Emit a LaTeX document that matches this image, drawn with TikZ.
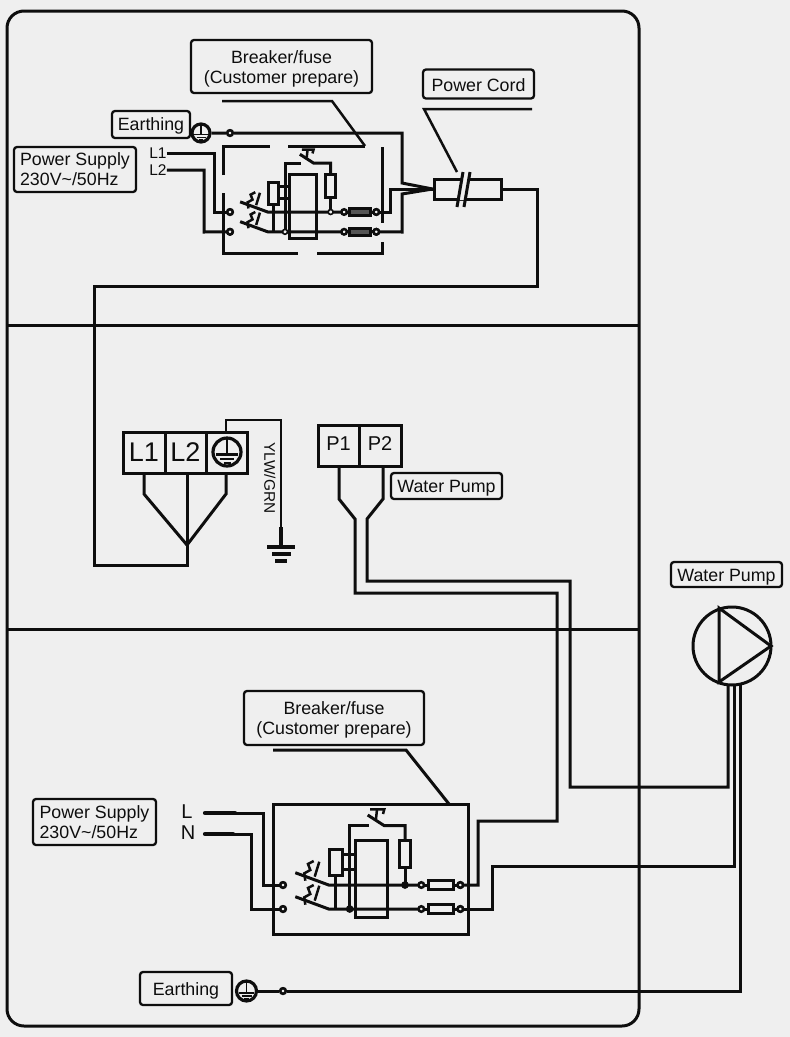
\documentclass[tikz,border=0pt]{standalone}
\usepackage{fontspec}
\setmainfont{Liberation Sans}
\definecolor{bgc}{HTML}{EFEFEF}
\definecolor{ink}{HTML}{0E0E0E}
\definecolor{fusegray}{HTML}{555555}
\tikzset{
  wire/.style={draw=ink,line width=3pt,line join=miter},
  thinwire/.style={draw=ink,line width=2.5pt,line join=miter},
  lbl/.style={draw=ink,line width=2.3pt,rounded corners=3pt,inner sep=0pt,align=center,text=ink,font=\fontsize{17.8}{20}\selectfont},
  lblleft/.style={lbl,align=left},
  plain/.style={inner sep=0pt,text=ink},
  cell/.style={draw=ink,line width=3pt,inner sep=0pt,text=ink,anchor=center},
  term/.style={draw=ink,line width=2.5pt,circle,fill=bgc,inner sep=0pt,minimum size=5.5pt},
  earthc/.style={draw=ink,line width=3.2pt,circle,inner sep=0pt,fill=bgc},
}
\newcommand{\earthsym}[5]{%
  \node[earthc,minimum size=#4pt] (#1) at (#2,#3) {};
  \begin{scope}[shift={(#2,#3)},scale=#4/2]
    \draw[ink,line width=#5pt] (0,-1) -- (0,0.18);
    \draw[ink,line width=#5pt] (-0.78,0.18) -- (0.78,0.18);
    \draw[ink,line width=#5pt] (-0.5,0.5) -- (0.5,0.5);
    \draw[ink,line width=#5pt] (-0.25,0.78) -- (0.25,0.78);
  \end{scope}}
\newcommand{\gear}[6]{% prefix, x, y, scale, fuse fill, junction fill
  \begin{scope}[shift={(#2,#3)},scale=#4]
    \coordinate (#1in1) at (0,0);
    \coordinate (#1in2) at (0,24);
    \coordinate (#1out1) at (177.3,0);
    \coordinate (#1out2) at (177.3,24);
    % levers and blow-out marks
    \draw[wire] (12.3,-12.3) -- (45.7,0) -- (138.3,0);
    \draw[wire] (12.3,11.7) -- (45.7,24) -- (138.3,24);
    \foreach \dy in {0,24} {
      \draw[thinwire] (30.7,-24+\dy) -- (25,-21+\dy) -- (27.3,-15+\dy) -- (21.3,-11.7+\dy) -- (22.3,-4.3+\dy);
      \draw[thinwire] (36.3,-23.3+\dy) -- (31.7,-8.3+\dy);
    }
    % coil
    \draw[wire] (46.3,-36) rectangle (59,-9.3);
    \draw[wire] (52.3,-9.3) -- (52.3,24);
    \draw[wire] (59,-31) -- (72.3,-31);
    \draw[wire] (59,-16) -- (72.3,-16);
    \draw[wire] (72.3,-45) rectangle (104.7,32.3);
    % test button
    \draw[wire] (66.7,24) -- (66.7,-59.3) -- (86.3,-59.3);
    \draw[wire] (84.7,-70) -- (101.3,-59.3) -- (122,-59.3) -- (122,-45);
    \draw[wire] (116.3,-45) rectangle (127.3,-17.7);
    \draw[wire] (122,-17.7) -- (122,0);
    \draw[thinwire] (87,-75.7) -- (101.3,-75.7) -- (100,-71);
    \draw[thinwire] (94,-75.7) -- (93,-66);
    % fuses
    \foreach \yy in {0,24} {
      \draw[wire,fill=#5] (145,\yy-4.3) rectangle (170.7,\yy+4.3);
      \draw[wire] (138.3,\yy) -- (145,\yy);
      \draw[wire] (170.7,\yy) -- (177.3,\yy);
      \node[term] (#1a\yy) at (138.3,\yy) {};
      \node[term] (#1b\yy) at (177.3,\yy) {};
      \node[term] (#1c\yy) at (0,\yy) {};
    }
    \fill[#6,draw=ink,line width=1.6pt] (66.7,24) circle (3);
    \fill[#6,draw=ink,line width=1.6pt] (122,0) circle (3);
  \end{scope}}
\begin{document}
\begin{tikzpicture}[x=1pt,y=-1pt]
\useasboundingbox (0,0) rectangle (790,1037);
\fill[bgc] (0,0) rectangle (790,1037);
% frame
\draw[ink,line width=3pt,rounded corners=17pt] (7,11) rectangle (639,1026);
\coordinate (fl1) at (7,325); \coordinate (fr1) at (639,325);
\coordinate (fl2) at (7,629); \coordinate (fr2) at (639,629);
\draw[wire] (fl1) -- (fr1);
\draw[wire] (fl2) -- (fr2);

% ---------- top section ----------
\node[lbl,minimum width=181pt,minimum height=53pt] (brk1) at (281.5,66.5) {\rule{0pt}{17pt}Breaker/fuse\\(Customer prepare)};
\node[lbl,minimum width=111pt,minimum height=29pt] (cordl) at (478.5,84) {\rule{0pt}{16pt}Power Cord};
\node[lbl,minimum width=78pt,minimum height=27pt] (earth1l) at (151,124.5) {\rule{0pt}{15pt}Earthing};
\node[lblleft,minimum width=122pt,minimum height=45pt] (ps1) at (75,169.5) {Power Supply\\230V\textasciitilde/50Hz};
\node[plain,font=\fontsize{15.5}{16}\selectfont] (l1t) at (158,153) {L1};
\node[plain,font=\fontsize{15.5}{16}\selectfont] (l2t) at (158,170) {L2};
\earthsym{earth1}{201}{133}{18}{1.7}
\node[term] (earth1d) at (230,133) {};

\gear{u}{230}{212}{0.825}{fusegray}{bgc}

% dashed enclosure
\coordinate (ba) at (223,175); \coordinate (bb) at (223,146); \coordinate (bc) at (270,146);
\coordinate (bd) at (288,146); \coordinate (be) at (365,146);
\coordinate (bf) at (382,147); \coordinate (bg) at (382,223);
\coordinate (bh) at (382,242); \coordinate (bi) at (382,253); \coordinate (bj) at (317,253);
\coordinate (bk) at (223,193); \coordinate (bl) at (223,253); \coordinate (bm) at (298,253);
\draw[wire] (ba) -- (bb) -- (bc);
\draw[wire] (bd) -- (be);
\draw[wire] (bf) -- (bg);
\draw[wire] (bh) -- (bi) -- (bj);
\draw[wire] (bk) -- (bl) -- (bm);
% breaker leader
\coordinate (la1) at (222,101); \coordinate (la2) at (332,101);
\draw[thinwire] (la1) -- (la2) -- (be);

% supply wires
\draw[wire] (l1t.east) -- (214,153) -- (214,212) -- (uin1);
\draw[wire] (l2t.east) -- (204,170) -- (204,232) -- (uin2);
\node[term] at (uin1) {};
\node[term] at (uin2) {};

% power cord
\node[cell,minimum width=67pt,minimum height=20pt] (cord) at (467.5,189) {};
\fill[bgc] (457.5,200) -- (464.5,200) -- (470,178) -- (463,178) -- cycle;
\coordinate (s1a) at (457,207); \coordinate (s1b) at (463,172);
\coordinate (s2a) at (464,207); \coordinate (s2b) at (470,172);
\draw[wire] (s1a) -- (s1b);
\draw[wire] (s2a) -- (s2b);
\coordinate (cl1) at (424,109); \coordinate (cl2) at (532,109);
\draw[thinwire] (cl2) -- (cl1) -- (457,172);
% wires into cord
\draw[wire] (earth1) -- (earth1d) -- (402,133) -- (402,183) -- (cord.west);
\draw[wire] (uout1) -- (390,212) -- (390,189) -- (cord.west);
\draw[wire] (uout2) -- (402,232) -- (402,194) -- (cord.west);
\node[term] at (earth1d) {};
\node[term] at (uout1) {};
\node[term] at (uout2) {};

% ---------- middle section ----------
\node[cell,minimum width=42pt,minimum height=41pt,font=\fontsize{27}{27}\selectfont] (tl1) at (144,452.5) {L1};
\node[cell,minimum width=41pt,minimum height=41pt,font=\fontsize{27}{27}\selectfont] (tl2) at (185.5,452.5) {L2};
\node[cell,minimum width=41pt,minimum height=41pt] (tpe) at (226.5,452.5) {};
\earthsym{tpes}{227}{452}{28}{2.8}
\coordinate (jn) at (187,545);
\draw[wire] (tl1.south) -- (144,494) -- (jn);
\draw[wire] (187,473) -- (jn);
\draw[wire] (226,473) -- (226,494) -- (jn);
\draw[wire] (cord.east) -- (537,189) -- (537,286) -- (94,286) -- (94,565) -- (187,565) -- (jn);

\coordinate (gt) at (281,547);
\draw[thinwire] (226,432) -- (226,420) -- (281,420) -- (gt);
\draw[ink,line width=4.5pt] (281,527) -- (gt);
\draw[ink,line width=3.5pt] (267,547) -- (295,547);
\draw[ink,line width=3.5pt] (272,554) -- (291,554);
\draw[ink,line width=3.5pt] (275,561) -- (287,561);
\node[plain,rotate=-90,font=\fontsize{15.4}{16}\selectfont] (ylw) at (270,478) {YLW/GRN};

\node[cell,minimum width=41pt,minimum height=41pt,font=\fontsize{20}{20}\selectfont,text depth=3pt] (p1) at (338.5,445.5) {P1};
\node[cell,minimum width=42pt,minimum height=41pt,font=\fontsize{20}{20}\selectfont,text depth=3pt] (p2) at (380,445.5) {P2};
\node[lbl,minimum width=111pt,minimum height=26pt] (wp1) at (446.5,486) {\rule{0pt}{17pt}Water Pump};

% pump
\node[draw=ink,line width=3pt,circle,inner sep=0pt,minimum size=78pt] (pump) at (732,646) {};
\coordinate (t1) at (719,608); \coordinate (t2) at (719,682); \coordinate (t3) at (771,646);
\draw[wire] (t1) -- (t2) -- (t3) -- cycle;
\node[lbl,minimum width=111pt,minimum height=25pt] (wp2) at (726.5,574.5) {\rule{0pt}{17pt}Water Pump};
\coordinate (pa) at (728,684); \coordinate (pb) at (734,685); \coordinate (pc) at (740,684);
\draw[wire] (339,466) -- (339,499) -- (355,519) -- (355,593) -- (557,593) -- (557,821) -- (478,821) -- (478,885) -- (461,885);
\draw[wire] (383,466) -- (383,499) -- (367,519) -- (367,581) -- (570,581) -- (570,787) -- (728,787) -- (pa);

% ---------- bottom section ----------
\node[lbl,minimum width=180pt,minimum height=54pt] (brk2) at (334,718) {\rule{0pt}{17pt}Breaker/fuse\\(Customer prepare)};
\node[lblleft,minimum width=123pt,minimum height=46pt] (ps2) at (94.5,822) {Power Supply\\230V\textasciitilde/50Hz};
\node[plain,font=\fontsize{20}{20}\selectfont] (ll) at (187,812) {L};
\node[plain,font=\fontsize{20}{20}\selectfont] (ln) at (188,833) {N};
\node[lbl,minimum width=92pt,minimum height=33pt] (earth2l) at (186,988.5) {\rule{0pt}{17pt}Earthing};
\draw[wire] (273,804) rectangle (468,934);
\coordinate (lb1) at (273,750); \coordinate (lb2) at (406,750); \coordinate (lb3) at (449,804);
\draw[wire] (lb1) -- (lb2) -- (lb3);

\gear{d}{283}{885}{1}{bgc}{ink}

\coordinate (lw) at (205,813); \coordinate (lwe) at (235,813);
\coordinate (nw) at (205,834); \coordinate (nwe) at (233,834);
\draw[ink,line width=4.2pt,line cap=round] (lw) -- (lwe);
\draw[ink,line width=4.2pt,line cap=round] (nw) -- (nwe);
\draw[wire] (lwe) -- (263,813) -- (263,885) -- (din1);
\draw[wire] (nwe) -- (251,834) -- (251,909) -- (din2);
\node[term] at (din1) {};
\node[term] at (din2) {};
\draw[wire] (dout2) -- (492,909) -- (492,866) -- (734,866) -- (pb);
\node[term] at (dout1) {};
\node[term] at (dout2) {};

\earthsym{earth2}{246.5}{991}{20}{1.8}
\node[term] (earth2d) at (283,991) {};
\draw[wire] (earth2) -- (earth2d) -- (740,991) -- (pc);
\node[term] at (earth2d) {};
\end{tikzpicture}
\end{document}
